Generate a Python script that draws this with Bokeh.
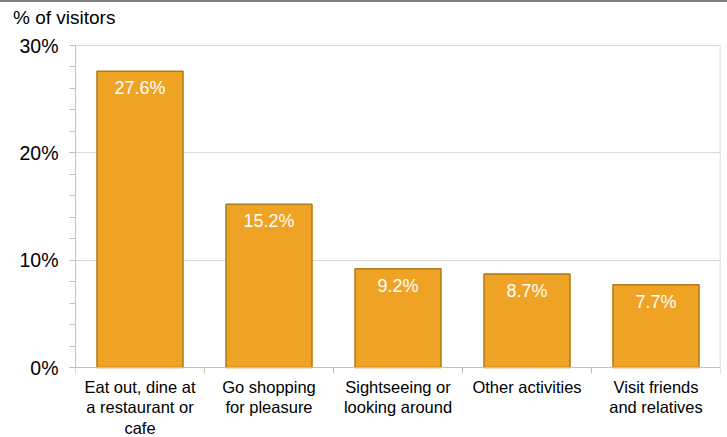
from bokeh.plotting import figure
from bokeh.layouts import column
from bokeh.models import FixedTicker, ColumnDataSource, Range1d, Div
from bokeh.core.properties import value
from bokeh.embed import file_html
from bokeh.resources import INLINE

categories = ["Eat out, dine at\na restaurant or\ncafe", "Go shopping\nfor pleasure",
              "Sightseeing or\nlooking around", "Other activities", "Visit friends\nand relatives"]
values = [27.6, 15.2, 9.2, 8.7, 7.7]
y_ticks = [0, 10, 20, 30]
y_tick_labels = ["0%", "10%", "20%", "30%"]
y_title = "% of visitors"

FONT = "Liberation Sans"
AXIS_GREY = "#bfbfbf"
W, H = 727, 437
HEADER_H = 30
n = len(categories)
y_max = y_ticks[-1]
xs = [i + 0.5 for i in range(n)]
bounds = list(range(n + 1))

# pixel layout of the plotting area (page coordinates)
top_px, zero_px = 45.0, 367.0
unit_px = (zero_px - top_px) / y_max
y_hi = y_max + (top_px - HEADER_H) / unit_px
y_low = -(H - zero_px) / unit_px
tick_len = 6.0 / unit_px

# ---- header with the axis title ----
hdr = Div(text=(f'<div style="border-top:2px solid #808080;box-sizing:border-box;'
                f'width:{W}px;height:{HEADER_H}px;padding:5px 0 0 13px;'
                f'font-family:\'{FONT}\';font-size:19px;line-height:1.2;color:#000;'
                f'white-space:nowrap;">{y_title}</div>'),
          width=W, height=HEADER_H, margin=0)

# ---- main chart ----
src = ColumnDataSource(dict(x=xs, top=values, label=[f"{v:.1f}%" for v in values]))
cat_src = ColumnDataSource(dict(x=xs, y=[0] * n, name=categories))

p = figure(width=W, height=H - HEADER_H, output_backend="svg", toolbar_location=None,
           x_range=Range1d(0, n), y_range=Range1d(y_low, y_hi),
           x_axis_location=None, margin=0,
           min_border_left=75, min_border_right=7, min_border_top=0, min_border_bottom=0)

p.vbar(x="x", top="top", width=0.667, source=src, fill_color="#EFA324",
       line_color="#B07A1A", line_width=1.5)
p.text(x="x", y="top", text="label", source=src, text_color="white",
       text_font=value(FONT), text_font_size="18px", text_align="center",
       text_baseline="top", y_offset=7)

# x axis line, category separators, right border
p.segment(x0=[0], y0=[0], x1=[n], y1=[0], line_color=AXIS_GREY, line_width=1)
p.segment(x0=bounds, y0=[0] * len(bounds), x1=bounds, y1=[-tick_len] * len(bounds),
          line_color=AXIS_GREY, line_width=1)
p.segment(x0=[n], y0=[0], x1=[n], y1=[y_max], line_color="#d0d0d0", line_width=1.5)

p.text(x="x", y="y", text="name", source=cat_src, text_color="#000000",
       text_font=value(FONT), text_font_size="16.5px", text_align="center",
       text_baseline="top", text_line_height=1.15, y_offset=10)

p.xgrid.visible = False
p.ygrid.ticker = FixedTicker(ticks=y_ticks)
p.ygrid.grid_line_color = "#d9d9d9"
p.outline_line_color = None

ya = p.yaxis[0]
ya.bounds = (0, y_max)
ya.ticker = FixedTicker(ticks=y_ticks, minor_ticks=list(range(0, y_max + 1, 2)))
ya.major_label_overrides = {t: l for t, l in zip(y_ticks, y_tick_labels)}
ya.major_label_text_font = FONT
ya.major_label_text_font_size = "19.5px"
ya.major_label_text_color = "#000000"
ya.axis_line_color = AXIS_GREY
ya.major_tick_line_color = AXIS_GREY
ya.minor_tick_line_color = AXIS_GREY
ya.major_tick_in = 0
ya.major_tick_out = 6
ya.minor_tick_in = 0
ya.minor_tick_out = 6
ya.major_label_standoff = 11

layout = column(hdr, p, spacing=0)
open("out.html", "w").write(file_html(layout, INLINE))
